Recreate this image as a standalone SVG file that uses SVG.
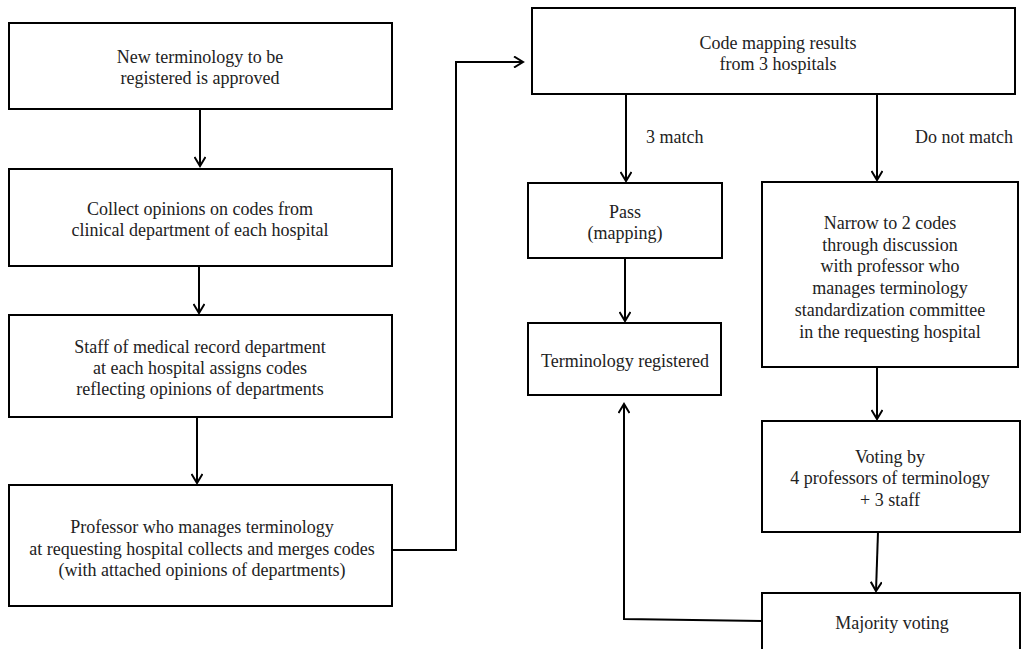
<svg xmlns="http://www.w3.org/2000/svg" width="1023" height="649" viewBox="0 0 1023 649">
<defs>
<marker id="arr" markerWidth="12" markerHeight="12" refX="10" refY="6" orient="auto" markerUnits="userSpaceOnUse">
<path d="M1,0.5 L10,6 L1,11.5" fill="none" stroke="#000" stroke-width="2"/>
</marker>
</defs>
<style>
.box{fill:#fff;stroke:#000;stroke-width:2}
.t{font-family:"Liberation Serif","Times New Roman",serif;font-size:18px;fill:#222;text-anchor:middle}
.l{font-family:"Liberation Serif","Times New Roman",serif;font-size:18px;fill:#222}
.c{fill:none;stroke:#000;stroke-width:2}
</style>
<rect width="1023" height="649" fill="#fff"/>
<g id="connectors">
<path class="c" d="M200,109 V166" marker-end="url(#arr)"/>
<path class="c" d="M199,266 V313" marker-end="url(#arr)"/>
<path class="c" d="M197,417 V483" marker-end="url(#arr)"/>
<path class="c" d="M392,550 H456 V62 H523" marker-end="url(#arr)"/>
<path class="c" d="M626,94 V181" marker-end="url(#arr)"/>
<path class="c" d="M877,94 V180" marker-end="url(#arr)"/>
<path class="c" d="M625,258 V321" marker-end="url(#arr)"/>
<path class="c" d="M877,367 V419" marker-end="url(#arr)"/>
<path class="c" d="M878,532 L876,591" marker-end="url(#arr)"/>
<path class="c" d="M762,621 L624,619 V404" marker-end="url(#arr)"/>
</g>
<g id="n1"><rect class="box" x="9" y="23" width="383" height="86"/>
<text class="t" x="200" y="63">New terminology to be</text><text class="t" x="200" y="84">registered is approved</text></g>
<g id="n2"><rect class="box" x="9" y="169" width="383" height="97"/>
<text class="t" x="200" y="215">Collect opinions on codes from</text><text class="t" x="200" y="236">clinical department of each hospital</text></g>
<g id="n3"><rect class="box" x="9" y="315" width="383" height="102"/>
<text class="t" x="200" y="353">Staff of medical record department</text><text class="t" x="200" y="374">at each hospital assigns codes</text><text class="t" x="200" y="395">reflecting opinions of departments</text></g>
<g id="n4"><rect class="box" x="9" y="485" width="383" height="121"/>
<text class="t" x="202" y="533">Professor who manages terminology</text><text class="t" x="202" y="555">at requesting hospital collects and merges codes</text><text class="t" x="202" y="576">(with attached opinions of departments)</text></g>
<g id="n5"><rect class="box" x="532" y="8" width="483" height="86"/>
<text class="t" x="778" y="49">Code mapping results</text><text class="t" x="778" y="70">from 3 hospitals</text></g>
<g id="labels"><text class="l" x="646" y="143">3 match</text><text class="l" x="915" y="143">Do not match</text></g>
<g id="n6"><rect class="box" x="528" y="183" width="194" height="75"/>
<text class="t" x="625" y="218">Pass</text><text class="t" x="625" y="239">(mapping)</text></g>
<g id="n7"><rect class="box" x="528" y="323" width="193" height="72"/>
<text class="t" x="625" y="367">Terminology registered</text></g>
<g id="n8"><rect class="box" x="762" y="182" width="256" height="185"/>
<text class="t" x="890" y="229">Narrow to 2 codes</text><text class="t" x="890" y="251">through discussion</text><text class="t" x="890" y="272">with professor who</text><text class="t" x="890" y="294">manages terminology</text><text class="t" x="890" y="316">standardization committee</text><text class="t" x="890" y="338">in the requesting hospital</text></g>
<g id="n9"><rect class="box" x="762" y="421" width="258" height="111"/>
<text class="t" x="890" y="463">Voting by</text><text class="t" x="890" y="484">4 professors of terminology</text><text class="t" x="890" y="506">+ 3 staff</text></g>
<g id="n10"><rect class="box" x="762" y="593" width="258" height="70"/>
<text class="t" x="892" y="629">Majority voting</text></g>
</svg>
